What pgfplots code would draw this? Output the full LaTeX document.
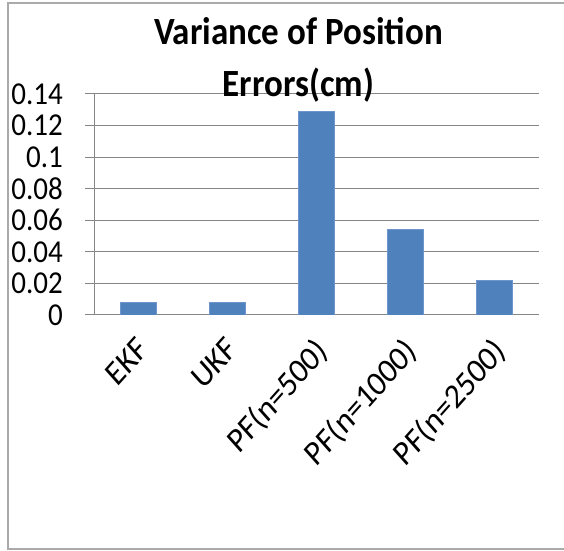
\documentclass[border=0pt]{standalone}
\usepackage{pgfplots}
\pgfplotsset{compat=1.18}
\usepackage{fontspec}
\setmainfont{Carlito}

\definecolor{barblue}{RGB}{79,129,189}
\definecolor{baredge}{RGB}{110,150,205}
\definecolor{gridgray}{RGB}{134,134,134}
\definecolor{framegray}{RGB}{170,170,170}

\begin{document}
\begin{tikzpicture}[x=1bp,y=1bp]
  \path[use as bounding box] (0,0) rectangle (564,551);
  % chart frame (open on the right)
  \draw[framegray, line width=2bp] (564,2) -- (8,2) -- (8,548) -- (564,548);

  \begin{axis}[
      at={(94bp,236bp)}, anchor=south west,
      scale only axis, width=445bp, height=221bp,
      xmin=-0.5, xmax=4.5, ymin=0, ymax=0.14,
      ytick distance=0.02,
      ymajorgrids, grid style={gridgray, line width=1bp},
      axis line style={gridgray, line width=1bp},
      axis x line*=bottom, axis y line*=left,
      tick align=outside,
      major tick length=9bp,
      tick style={gridgray, line width=1bp},
      xtick={0,1,2,3,4},
      xticklabels={EKF,UKF,PF(n=500),PF(n=1000),PF(n=2500)},
      x tick style={draw=none},
      extra x ticks={-0.5,0.5,1.5,2.5,3.5,4.5},
      extra x tick labels={},
      extra x tick style={grid=none, tick style={draw=gridgray, line width=1bp}, major tick length=10bp},
      xticklabel style={xshift=-3bp, yshift=-11bp, yscale=1.12, rotate=45, anchor=north east, inner sep=0pt,
                        font=\fontsize{31bp}{36bp}\selectfont},
      yticklabel style={anchor=east, inner sep=0pt, xshift=-22bp, yscale=1.1,
                        font=\fontsize{29bp}{34bp}\selectfont},
      /pgf/number format/.cd, fixed, precision=2, assume math mode=true,
    ]
    \addplot[ybar, bar width=36bp, fill=barblue, draw=baredge, line width=0.8bp]
      coordinates {(0,0.008) (1,0.008) (2,0.129) (3,0.054) (4,0.022)};
  \end{axis}

  % two-line bold title over the plot
  \node[anchor=base, yscale=1.1, font=\fontsize{35bp}{40bp}\selectfont\bfseries] at (298.5,506) {Variance of Position};
  \node[anchor=base, yscale=1.1, font=\fontsize{35bp}{40bp}\selectfont\bfseries] at (298.5,454) {Errors(cm)};
\end{tikzpicture}
\end{document}
